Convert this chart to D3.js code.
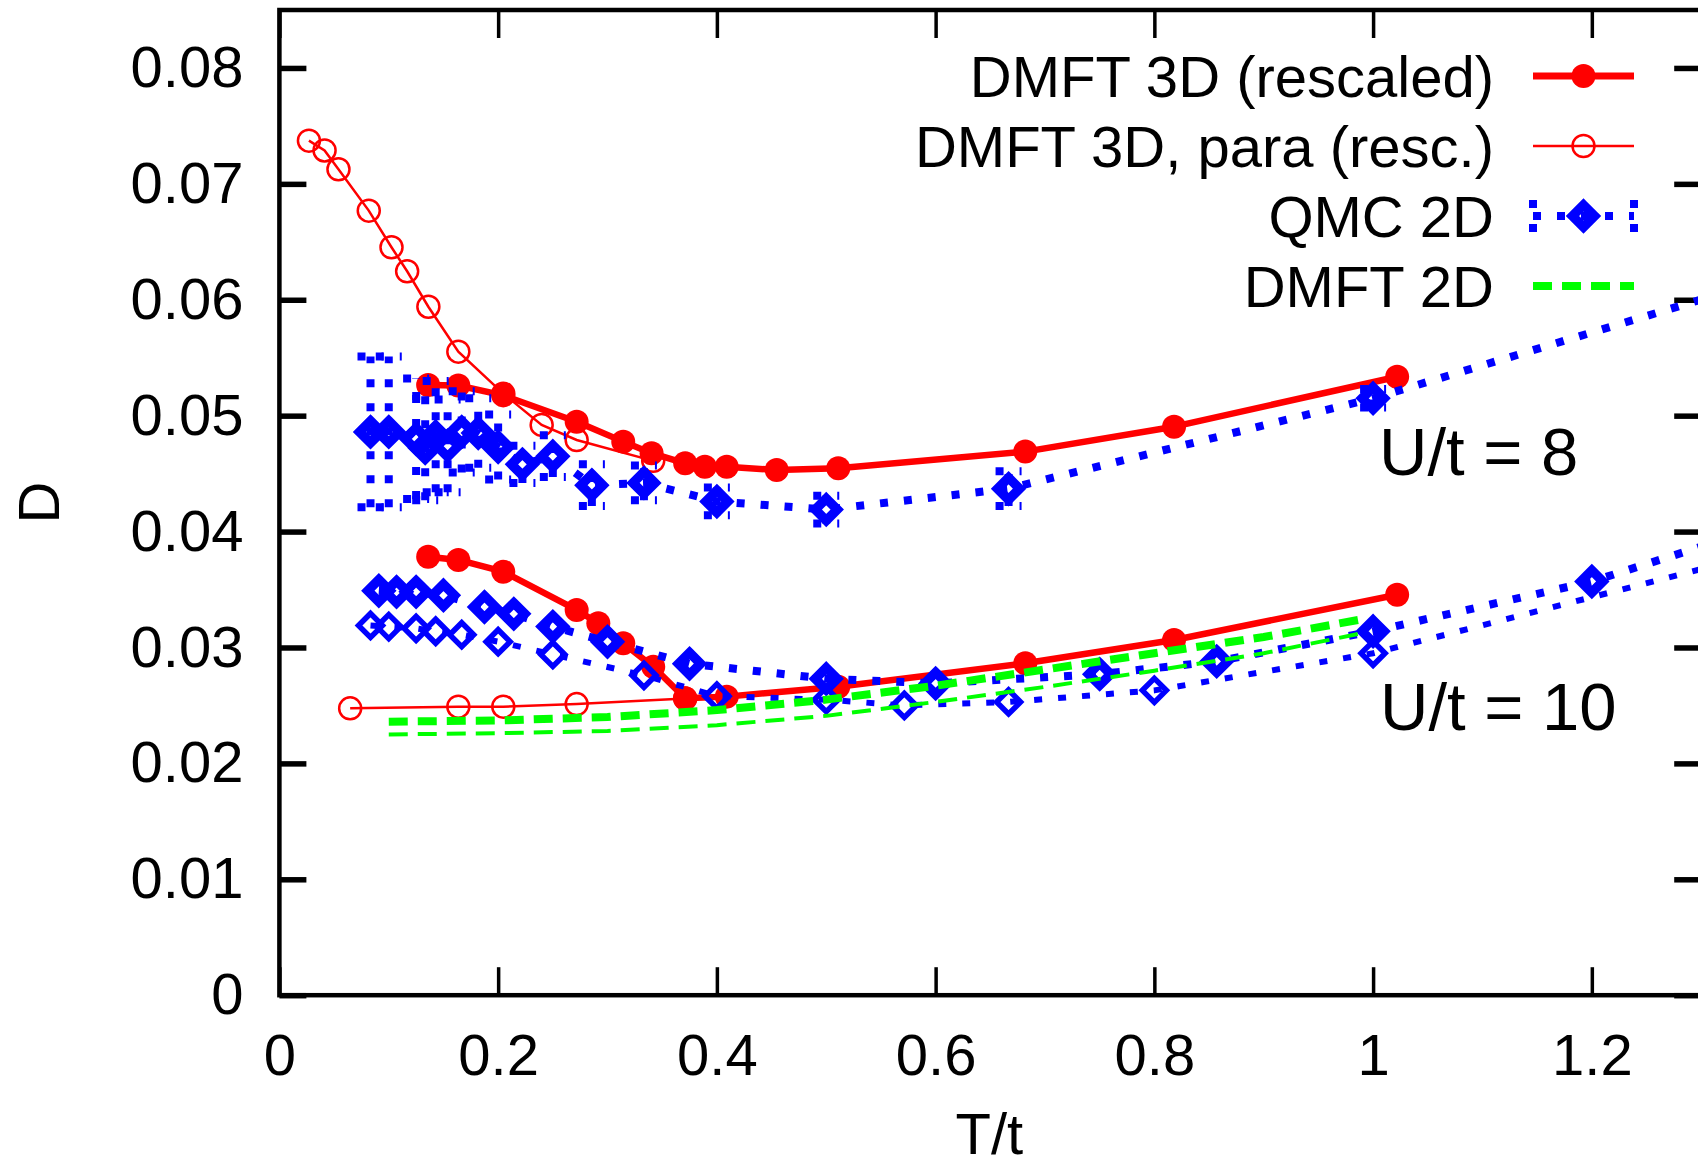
<!DOCTYPE html>
<html><head><meta charset="utf-8">
<script src="https://cdn.jsdelivr.net/npm/d3@7"></script>
<style>
body{margin:0;background:#fff}
svg{display:block}
text{font-family:"Liberation Sans",Arial,Helvetica,sans-serif;fill:#000}
</style>
</head><body>
<svg id="c" width="1698" height="1166"></svg>
<script>
// ---------- data ----------
const xTickValues = [0, 0.2, 0.4, 0.6, 0.8, 1, 1.2];
const xTickLabels = ["0", "0.2", "0.4", "0.6", "0.8", "1", "1.2"];
const yTickValues = [0, 0.01, 0.02, 0.03, 0.04, 0.05, 0.06, 0.07, 0.08];
const yTickLabels = ["0", "0.01", "0.02", "0.03", "0.04", "0.05", "0.06", "0.07", "0.08"];
const legendLabels = ["DMFT 3D (rescaled)", "DMFT 3D, para (resc.)", "QMC 2D", "DMFT 2D"];
const annotationLabels = ["U/t = 8", "U/t = 10"];
const xTitle = "T/t";
const yTitle = "D";

// DMFT 3D (rescaled), ordered solution
const dmft3dU8_T = [0.136, 0.1636, 0.2047, 0.2718, 0.3144, 0.3403, 0.371, 0.389, 0.409, 0.4547, 0.511, 0.682, 0.818, 1.022];
const dmft3dU8_D = [0.05265, 0.05260, 0.05175, 0.04948, 0.04776, 0.04676, 0.04589, 0.0456, 0.0456, 0.04531, 0.04546, 0.0469, 0.04905, 0.05336];
const dmft3dU10_T = [0.136, 0.1636, 0.2047, 0.2718, 0.2916, 0.3144, 0.3418, 0.371, 0.409, 0.511, 0.682, 0.818, 1.022];
const dmft3dU10_D = [0.03783, 0.03755, 0.03654, 0.03324, 0.03209, 0.03036, 0.02834, 0.02562, 0.02576, 0.02662, 0.02864, 0.03065, 0.03455];

// DMFT 3D paramagnetic (rescaled)
const paraU8_T = [0.027, 0.0413, 0.054, 0.0817, 0.1025, 0.1168, 0.1362, 0.1636, 0.2047, 0.2398, 0.2718, 0.3418];
const paraU8_D = [0.07373, 0.07288, 0.07126, 0.06769, 0.06453, 0.06246, 0.0594, 0.05552, 0.0519, 0.0492, 0.0479, 0.0461];
const paraU10_T = [0.0647, 0.1636, 0.2047, 0.2718, 0.371];
const paraU10_D = [0.02475, 0.02489, 0.02489, 0.02512, 0.0256];

// QMC 2D
const qmcU8_T = [0.0833, 0.1, 0.125, 0.1333, 0.1429, 0.1538, 0.1667, 0.1818, 0.2, 0.2222, 0.25, 0.2857, 0.3333, 0.4, 0.5, 0.6667, 1.0, 1.5];
const qmcU8_D = [0.0486, 0.0486, 0.0480, 0.0472, 0.0482, 0.0474, 0.0486, 0.0485, 0.0473, 0.0458, 0.0465, 0.0440, 0.0442, 0.0426, 0.0419, 0.0437, 0.0515, 0.0657];
const qmcU8_err = [0.0065, 0.0065, 0.0052, 0.0045, 0.0048, 0.0040, 0.0035, 0.0030, 0.0028, 0.0016, 0.0018, 0.0018, 0.0015, 0.0012, 0.0012, 0.0015, 0.0008, 0.0008];
const qmcU10a_T = [0.0909, 0.1071, 0.125, 0.15, 0.1875, 0.2143, 0.25, 0.3, 0.375, 0.5, 0.6, 0.75, 0.857, 1.0, 1.2, 1.5];
const qmcU10a_D = [0.0349, 0.0348, 0.0348, 0.0345, 0.0335, 0.0329, 0.0318, 0.0305, 0.0286, 0.0273, 0.0269, 0.0277, 0.0288, 0.0314, 0.0357, 0.0447];
const qmcU10b_T = [0.0833, 0.1, 0.125, 0.1429, 0.1667, 0.2, 0.25, 0.3333, 0.4, 0.5, 0.5714, 0.6667, 0.8, 1.0, 1.5];
const qmcU10b_D = [0.0319, 0.0318, 0.03165, 0.0314, 0.0311, 0.0305, 0.0294, 0.0276, 0.0258, 0.0255, 0.0250, 0.0253, 0.0263, 0.0295, 0.0416];

// DMFT 2D
const dmft2dA_T = [0.1, 0.2, 0.3, 0.4, 0.5, 0.6, 0.7, 0.8, 0.9, 0.994];
const dmft2dA_D = [0.0236, 0.0237, 0.0240, 0.0246, 0.0255, 0.0267, 0.0281, 0.0295, 0.0309, 0.0325];
const dmft2dB_T = [0.1, 0.2, 0.3, 0.4, 0.5, 0.6, 0.7, 0.8, 0.9, 0.988];
const dmft2dB_D = [0.0225, 0.0226, 0.0228, 0.0233, 0.0241, 0.0253, 0.0266, 0.0280, 0.0295, 0.0312];

// ---------- drawing ----------
const RED = "#ff0000", BLUE = "#0000ff", GREEN = "#00ff00";
const FONT = '"Liberation Sans", Arial, Helvetica, sans-serif';
const FS = 58;
const svg = d3.select("#c");
svg.append("rect").attr("width", 1698).attr("height", 1166).attr("fill", "#fff");

const L = 279.4, R = 1701.2, T = 10, B = 995.2;
const x = d3.scaleLinear().domain([0, 1.3]).range([L, R]);
const y = d3.scaleLinear().domain([0, 0.085]).range([B, T]);
const zip = (a, b) => a.map((v, i) => [v, b[i]]);
const line = d3.line().x(d => x(d[0])).y(d => y(d[1]));

// axes
const gB = svg.append("g").attr("transform", `translate(0,${B})`)
  .call(d3.axisBottom(x).tickValues(xTickValues).tickFormat((d, i) => xTickLabels[i]).tickSizeInner(-28).tickSizeOuter(0).tickPadding(39));
const gT = svg.append("g").attr("transform", `translate(0,${T})`)
  .call(d3.axisTop(x).tickValues(xTickValues).tickFormat("").tickSizeInner(-28).tickSizeOuter(0));
const gL = svg.append("g").attr("transform", `translate(${L},0)`)
  .call(d3.axisLeft(y).tickValues(yTickValues).tickFormat((d, i) => yTickLabels[i]).tickSizeInner(-27).tickSizeOuter(0).tickPadding(36));
const gR = svg.append("g").attr("transform", `translate(${R},0)`)
  .call(d3.axisRight(y).tickValues(yTickValues).tickFormat("").tickSizeInner(-27).tickSizeOuter(0));
[gB, gT, gL, gR].forEach(g => {
  g.select(".domain").remove();
  g.attr("font-size", FS).attr("font-family", FONT);
  g.selectAll("text").attr("fill", "#000");
});
[gB, gT].forEach(g => g.selectAll(".tick line").attr("stroke", "#000").attr("stroke-width", 3.5));
[gL, gR].forEach(g => g.selectAll(".tick line").attr("stroke", "#000").attr("stroke-width", 5.5));

// titles
svg.append("text").attr("x", (L + R) / 2 - 1).attr("y", 1154).attr("text-anchor", "middle")
  .attr("font-size", FS).text(xTitle);
svg.append("text").attr("transform", `translate(59,${(T + B) / 2}) rotate(-90)`).attr("text-anchor", "middle")
  .attr("font-size", FS).text(yTitle);

// clip
svg.append("defs").append("clipPath").attr("id", "plotclip")
  .append("rect").attr("x", L).attr("y", T).attr("width", R - L).attr("height", B - T);
const plot = svg.append("g").attr("clip-path", "url(#plotclip)");

const diamond = r => `M0,${-r}L${r},0L0,${r}L${-r},0Z`;

// DMFT 3D (rescaled)
[[dmft3dU8_T, dmft3dU8_D], [dmft3dU10_T, dmft3dU10_D]].forEach(([xs, ys]) => {
  const p = zip(xs, ys);
  plot.append("path").attr("d", line(p)).attr("fill", "none").attr("stroke", RED).attr("stroke-width", 6.5).attr("stroke-linejoin", "round");
  plot.selectAll(null).data(p).enter().append("circle")
    .attr("cx", d => x(d[0])).attr("cy", d => y(d[1])).attr("r", 12).attr("fill", RED);
});

// DMFT 3D para
[[paraU8_T, paraU8_D], [paraU10_T, paraU10_D]].forEach(([xs, ys]) => {
  const p = zip(xs, ys);
  plot.append("path").attr("d", line(p)).attr("fill", "none").attr("stroke", RED).attr("stroke-width", 2.5);
  plot.selectAll(null).data(p).enter().append("circle")
    .attr("cx", d => x(d[0])).attr("cy", d => y(d[1])).attr("r", 11).attr("fill", "none")
    .attr("stroke", RED).attr("stroke-width", 2.5);
});

// QMC 2D
const DOT = "8,16";
function qmc(xs, ys, errs, lw, dr, dw) {
  const p = zip(xs, ys);
  plot.append("path").attr("d", line(p)).attr("fill", "none").attr("stroke", BLUE)
    .attr("stroke-width", lw).attr("stroke-dasharray", DOT);
  if (errs) {
    const eb = plot.append("g").attr("stroke", BLUE).attr("stroke-width", lw).attr("stroke-dasharray", DOT).attr("fill", "none");
    p.forEach((d, i) => {
      const cx = x(d[0]), y0 = y(d[1] - errs[i]), y1 = y(d[1] + errs[i]);
      eb.append("line").attr("x1", cx).attr("x2", cx).attr("y1", y0).attr("y2", y1);
      eb.append("line").attr("x1", cx - 13).attr("x2", cx + 13).attr("y1", y0).attr("y2", y0);
      eb.append("line").attr("x1", cx - 13).attr("x2", cx + 13).attr("y1", y1).attr("y2", y1);
    });
  }
  plot.selectAll(null).data(p).enter().append("path")
    .attr("transform", d => `translate(${x(d[0])},${y(d[1])})`)
    .attr("d", diamond(dr)).attr("fill", "none").attr("stroke", BLUE).attr("stroke-width", dw);
}
qmc(qmcU8_T, qmcU8_D, qmcU8_err, 8, 11, 9.5);
qmc(qmcU10a_T, qmcU10a_D, null, 8, 11, 9.5);
qmc(qmcU10b_T, qmcU10b_D, null, 6, 12, 5.5);

// DMFT 2D
plot.append("path").attr("d", line(zip(dmft2dA_T, dmft2dA_D))).attr("fill", "none").attr("stroke", GREEN)
  .attr("stroke-width", 8).attr("stroke-dasharray", "19,10");
plot.append("path").attr("d", line(zip(dmft2dB_T, dmft2dB_D))).attr("fill", "none").attr("stroke", GREEN)
  .attr("stroke-width", 4).attr("stroke-dasharray", "19,10");

// frame
svg.append("rect").attr("x", L).attr("y", T).attr("width", R - L).attr("height", B - T)
  .attr("fill", "none").attr("stroke", "#000").attr("stroke-width", 4.5);

// annotations
svg.append("text").attr("x", 1379).attr("y", 475).attr("font-size", 67).text(annotationLabels[0]);
svg.append("text").attr("x", 1380).attr("y", 730).attr("font-size", 67).text(annotationLabels[1]);

// legend
const legY = [76, 146, 216, 286];
const lx0 = 1533, lx1 = 1634, lxm = 1583.5;
const leg = svg.append("g");
legendLabels.forEach((lab, i) => {
  leg.append("text").attr("x", 1494).attr("y", legY[i] + 21).attr("text-anchor", "end").attr("font-size", FS).text(lab);
});
leg.append("line").attr("x1", lx0).attr("x2", lx1).attr("y1", legY[0]).attr("y2", legY[0]).attr("stroke", RED).attr("stroke-width", 7);
leg.append("circle").attr("cx", lxm).attr("cy", legY[0]).attr("r", 12).attr("fill", RED);
leg.append("line").attr("x1", lx0).attr("x2", lx1).attr("y1", legY[1]).attr("y2", legY[1]).attr("stroke", RED).attr("stroke-width", 2.5);
leg.append("circle").attr("cx", lxm).attr("cy", legY[1]).attr("r", 11).attr("fill", "none").attr("stroke", RED).attr("stroke-width", 2.5);
const lq = leg.append("g").attr("stroke", BLUE).attr("stroke-width", 8).attr("stroke-dasharray", DOT).attr("fill", "none");
lq.append("line").attr("x1", lx0).attr("x2", lx1).attr("y1", legY[2]).attr("y2", legY[2]);
lq.append("line").attr("x1", lx0).attr("x2", lx0).attr("y1", legY[2] - 16).attr("y2", legY[2] + 16);
lq.append("line").attr("x1", lx1).attr("x2", lx1).attr("y1", legY[2] - 16).attr("y2", legY[2] + 16);
leg.append("path").attr("transform", `translate(${lxm},${legY[2]})`).attr("d", diamond(11))
  .attr("fill", "none").attr("stroke", BLUE).attr("stroke-width", 9.5);
leg.append("line").attr("x1", lx0).attr("x2", lx1).attr("y1", legY[3]).attr("y2", legY[3])
  .attr("stroke", GREEN).attr("stroke-width", 8).attr("stroke-dasharray", "19,10");
</script>
</body></html>
